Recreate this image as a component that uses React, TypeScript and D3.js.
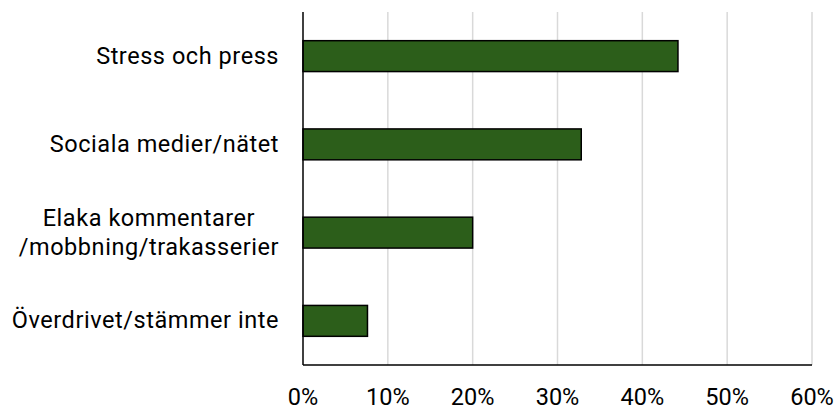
import React, { useEffect, useRef } from "react";
import * as d3 from "d3";

const categories: string[][] = [
  ["Stress och press"],
  ["Sociala medier/nätet"],
  ["Elaka kommentarer", "/mobbning/trakasserier"],
  ["Överdrivet/stämmer inte"],
];
const values: number[] = [0.442, 0.328, 0.2, 0.076];
const xTicks: number[] = [0, 0.1, 0.2, 0.3, 0.4, 0.5, 0.6];

const W = 838;
const H = 408;
const M = { top: 12, right: 26, bottom: 43, left: 303 };

export default function App() {
  const ref = useRef<SVGSVGElement>(null);

  useEffect(() => {
    const svg = d3.select(ref.current);
    svg.selectAll("*").remove();
    const font = "Roboto, 'Noto Sans', sans-serif";

    const x = d3.scaleLinear().domain([0, 0.6]).range([M.left, W - M.right]);
    const y = d3
      .scaleBand<number>()
      .domain(values.map((_, i) => i))
      .range([M.top, H - M.bottom])
      .paddingInner(0.65)
      .paddingOuter(0.325);

    // gridlines
    svg
      .append("g")
      .selectAll("line")
      .data(xTicks.slice(1))
      .join("line")
      .attr("x1", (d) => x(d))
      .attr("x2", (d) => x(d))
      .attr("y1", M.top)
      .attr("y2", H - M.bottom)
      .attr("stroke", "#d9d9d9")
      .attr("stroke-width", 1.5);

    // bars
    svg
      .append("g")
      .selectAll("rect")
      .data(values)
      .join("rect")
      .attr("x", x(0))
      .attr("y", (_, i) => y(i)!)
      .attr("width", (d) => x(d) - x(0))
      .attr("height", y.bandwidth())
      .attr("fill", "#2c5e1a")
      .attr("stroke", "#000")
      .attr("stroke-width", 1.5);

    // axes lines
    svg
      .append("line")
      .attr("x1", M.left)
      .attr("x2", M.left)
      .attr("y1", M.top)
      .attr("y2", H - M.bottom)
      .attr("stroke", "#000")
      .attr("stroke-width", 1.5);
    svg
      .append("line")
      .attr("x1", M.left)
      .attr("x2", W - M.right)
      .attr("y1", H - M.bottom)
      .attr("y2", H - M.bottom)
      .attr("stroke", "#000")
      .attr("stroke-width", 1.5);

    // x tick labels
    svg
      .append("g")
      .selectAll("text")
      .data(xTicks)
      .join("text")
      .attr("x", (d) => x(d))
      .attr("y", 404.5)
      .attr("text-anchor", "middle")
      .attr("font-family", font)
      .attr("font-size", 23.5)
      .attr("fill", "#000")
      .text((d) => d3.format(".0%")(d));

    // category labels
    const labelRight = 279;
    const lineH = 29;
    categories.forEach((lines, i) => {
      const cy = y(i)! + y.bandwidth() / 2;
      const g = svg.append("g");
      const texts = lines.map((ln, j) =>
        g
          .append("text")
          .attr("y", cy + 7.5 + (j - (lines.length - 1) / 2) * lineH)
          .attr("font-family", font)
          .attr("font-size", 23.5)
          .attr("letter-spacing", 0.55)
          .attr("fill", "#000")
          .attr("text-anchor", "middle")
          .text(ln)
      );
      const widths = texts.map((t) => (t.node() as SVGTextElement).getComputedTextLength());
      const maxW = Math.max(...widths);
      texts.forEach((t) => t.attr("x", labelRight - maxW / 2));
    });
  }, []);

  return (
    <svg
      ref={ref}
      width={W}
      height={H}
      style={{ position: "absolute", left: 0, top: 0, background: "#fff" }}
    />
  );
}
